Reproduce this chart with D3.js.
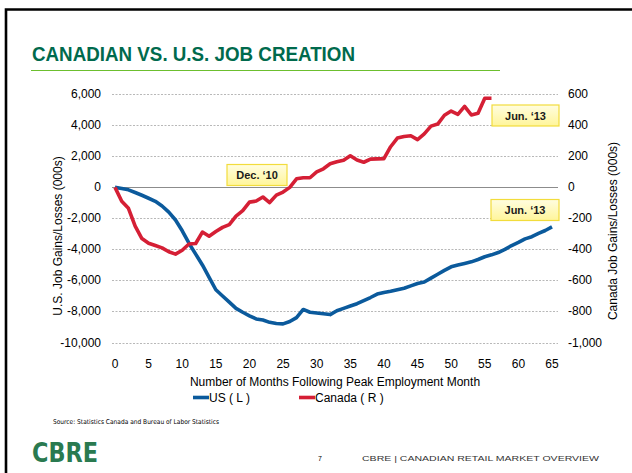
<!DOCTYPE html>
<html>
<head>
<meta charset="utf-8">
<script src="https://cdn.jsdelivr.net/npm/d3@7"></script>
<style>
  body { margin: 0; background: #fff; }
  svg { display: block; font-family: "Liberation Sans", Arial, sans-serif; }
</style>
</head>
<body>
<div id="chart"></div>
<script>
// US job gains/losses (000s), months 0..65 after peak (left axis)
const usValues = [
  0, -70, -160, -330, -510, -700, -900, -1200, -1600, -2100,
  -2800, -3600, -4300, -5000, -5800, -6600, -7000, -7400, -7800, -8050,
  -8280, -8480, -8550, -8700, -8780, -8800, -8650, -8400, -7870, -8050,
  -8100, -8150, -8200, -7950, -7800, -7650, -7500, -7300, -7100, -6880,
  -6780, -6700, -6600, -6500, -6350, -6200, -6100, -5850, -5600, -5350,
  -5120, -5000, -4900, -4800, -4650, -4470, -4350, -4200, -4000, -3750,
  -3550, -3320, -3180, -2970, -2780, -2550
];
// Canada job gains/losses (000s), months 0..56 after peak (right axis)
const canadaValues = [
  0, -90, -135, -250, -330, -360, -375, -390, -415, -430,
  -405, -365, -362, -288, -315, -285, -258, -240, -185, -150,
  -95, -88, -62, -98, -50, -30, 0, 55, 62, 62,
  100, 120, 152, 165, 175, 204, 176, 162, 182, 184,
  185, 262, 318, 328, 333, 308, 345, 395, 408, 465,
  492, 471, 522, 467, 478, 575, 575
];
const leftTicks = [6000, 4000, 2000, 0, -2000, -4000, -6000, -8000, -10000];
const rightTicks = [600, 400, 200, 0, -200, -400, -600, -800, -1000];
const xTicks = [0, 5, 10, 15, 20, 25, 30, 35, 40, 45, 50, 55, 60, 65];
const callouts = ["Dec. \u201810", "Jun. \u201813", "Jun. \u201813"];

const W = 632, H = 473;
const svg = d3.select("#chart").append("svg")
  .attr("width", W).attr("height", H);

// cadre de la diapo
svg.append("path")
  .attr("d", `M6,${H + 5} L6,9.5 L${W + 5},9.5`)
  .attr("fill", "none").attr("stroke", "#000").attr("stroke-width", 2.6);

// titre
svg.append("text")
  .attr("x", 32).attr("y", 61)
  .attr("textLength", 323).attr("lengthAdjust", "spacingAndGlyphs")
  .attr("font-size", 21).attr("font-weight", "bold")
  .attr("fill", "#006a4d")
  .text("CANADIAN VS. U.S. JOB CREATION");
svg.append("line")
  .attr("x1", 31).attr("x2", 500).attr("y1", 70.5).attr("y2", 70.5)
  .attr("stroke", "#6cbf2e").attr("stroke-width", 1.2);

// échelles
const x = d3.scaleLinear().domain([0, 65]).range([115, 552]);
const yL = d3.scaleLinear().domain([-10000, 6000]).range([342.5, 94.3]);
const yR = d3.scaleLinear().domain([-1000, 600]).range([342.5, 94.3]);
const gridX0 = 112, gridX1 = 558;

// grille
svg.append("g").selectAll("line")
  .data(leftTicks)
  .join("line")
  .attr("x1", gridX0).attr("x2", gridX1)
  .attr("y1", d => Math.round(yL(d)) + 0.5).attr("y2", d => Math.round(yL(d)) + 0.5)
  .attr("stroke", d => d === 0 ? "#8c8c8c" : "#b8b8b8")
  .attr("stroke-width", 1)
  .attr("stroke-dasharray", d => d === 0 ? null : "2,1.5");

// étiquettes des axes (tiret simple comme dans Excel)
const fmt = v => d3.format(",")(v).replace("\u2212", "-");
svg.append("g").selectAll("text")
  .data(leftTicks)
  .join("text")
  .attr("x", 101).attr("y", d => yL(d) + 4)
  .attr("text-anchor", "end").attr("font-size", 12).attr("fill", "#000")
  .text(d => fmt(d));
svg.append("g").selectAll("text")
  .data(rightTicks)
  .join("text")
  .attr("x", 568).attr("y", d => yR(d) + 4)
  .attr("font-size", 12).attr("fill", "#000")
  .text(d => fmt(d));
svg.append("g").selectAll("text")
  .data(xTicks)
  .join("text")
  .attr("x", d => x(d)).attr("y", 368)
  .attr("text-anchor", "middle").attr("font-size", 12).attr("fill", "#000")
  .text(d => d);

svg.append("text")
  .attr("transform", "translate(62,236) rotate(-90)")
  .attr("text-anchor", "middle").attr("font-size", 12)
  .text("U.S. Job Gains/Losses (000s)");
svg.append("text")
  .attr("transform", "translate(617,231) rotate(-90)")
  .attr("text-anchor", "middle").attr("font-size", 12)
  .text("Canada Job Gains/Losses (000s)");
svg.append("text")
  .attr("x", 335).attr("y", 386)
  .attr("text-anchor", "middle").attr("font-size", 12)
  .text("Number of Months Following Peak Employment Month");

// courbes
const lineUS = d3.line().x((d, i) => x(i)).y(d => yL(d));
const lineCA = d3.line().x((d, i) => x(i)).y(d => yR(d));
svg.append("path")
  .attr("d", lineUS(usValues))
  .attr("fill", "none").attr("stroke", "#0b5a9c")
  .attr("stroke-width", 3.6).attr("stroke-linejoin", "round");
svg.append("path")
  .attr("d", lineCA(canadaValues))
  .attr("fill", "none").attr("stroke", "#d51f35")
  .attr("stroke-width", 3.6).attr("stroke-linejoin", "round");

// étiquettes jaunes
const defs = svg.append("defs");
const grad = defs.append("linearGradient").attr("id", "yel")
  .attr("x1", 0).attr("x2", 0).attr("y1", 0).attr("y2", 1);
grad.append("stop").attr("offset", 0).attr("stop-color", "#fffde0");
grad.append("stop").attr("offset", 1).attr("stop-color", "#fff59a");

const boxes = [
  { label: callouts[0], x: 227, y: 164.5, w: 60, h: 21 },
  { label: callouts[1], x: 492, y: 105, w: 67, h: 21 },
  { label: callouts[2], x: 491, y: 199.5, w: 68, h: 21 }
];
const cg = svg.append("g").selectAll("g").data(boxes).join("g");
cg.append("rect")
  .attr("x", d => d.x).attr("y", d => d.y)
  .attr("width", d => d.w).attr("height", d => d.h)
  .attr("fill", "url(#yel)").attr("stroke", "#f2dc3c").attr("stroke-width", 1.2);
cg.append("text")
  .attr("x", d => d.x + d.w / 2).attr("y", d => d.y + d.h / 2 + 4)
  .attr("text-anchor", "middle").attr("font-size", 11).attr("font-weight", "bold")
  .attr("fill", "#1a1a1a")
  .text(d => d.label);

// légende
const legend = [
  { name: "US ( L )", color: "#0b5a9c", x: 193 },
  { name: "Canada ( R )", color: "#d51f35", x: 299 }
];
const lg = svg.append("g").selectAll("g").data(legend).join("g");
lg.append("line")
  .attr("x1", d => d.x).attr("x2", d => d.x + 16)
  .attr("y1", 397.5).attr("y2", 397.5)
  .attr("stroke", d => d.color).attr("stroke-width", 3.6);
lg.append("text")
  .attr("x", d => d.x + 16).attr("y", 402)
  .attr("font-size", 12)
  .text(d => d.name);

// pied de page
svg.append("text")
  .attr("x", 53).attr("y", 423.5)
  .attr("font-size", 6.6).attr("font-family", "'DejaVu Sans', sans-serif")
  .attr("textLength", 166).attr("lengthAdjust", "spacingAndGlyphs")
  .text("Source: Statistics Canada and Bureau of Labor Statistics");
svg.append("text")
  .attr("x", 32).attr("y", 462)
  .attr("font-size", 27).attr("font-weight", "bold")
  .attr("font-family", "'DejaVu Sans', sans-serif")
  .attr("textLength", 66).attr("lengthAdjust", "spacingAndGlyphs")
  .attr("fill", "#2a7a50")
  .text("CBRE");
svg.append("text")
  .attr("x", 320).attr("y", 461)
  .attr("font-size", 7).attr("text-anchor", "middle")
  .text("7");
svg.append("text")
  .attr("x", 362).attr("y", 461)
  .attr("font-size", 6.4)
  .attr("textLength", 237).attr("lengthAdjust", "spacingAndGlyphs")
  .attr("fill", "#333")
  .text("CBRE  |  CANADIAN RETAIL MARKET OVERVIEW");
</script>
</body>
</html>
